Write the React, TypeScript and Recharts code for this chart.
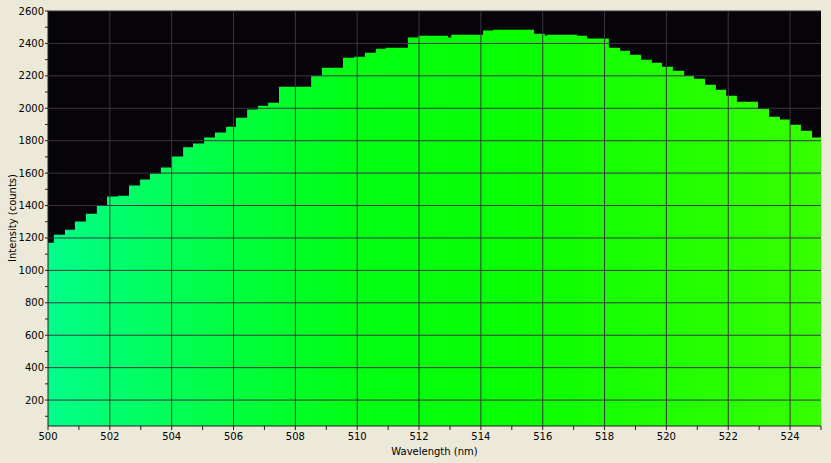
import { AreaChart, Area, XAxis, YAxis, CartesianGrid, ReferenceLine, Label } from "recharts";

// wavelength (nm) where each step starts, and the intensity read for that step
const wavelengths = [
  500, 500.19, 500.55, 500.87, 501.23, 501.58, 501.91, 502.26, 502.62, 502.98,
  503.3, 503.65, 503.98, 504.37, 504.69, 505.05, 505.4, 505.76, 506.08, 506.44,
  506.79, 507.12, 507.47, 508.51, 508.86, 509.54, 509.9, 510.25, 510.61, 510.93,
  511.64, 511.97, 512.94, 513.04, 514.07, 514.39, 515.72, 516.07, 516.14, 517.11,
  517.43, 518.14, 518.5, 518.82, 519.18, 519.53, 519.86, 520.21, 520.57, 520.89,
  521.25, 521.6, 521.93, 522.28, 522.96, 523.32, 523.67, 524.0, 524.35, 524.71, 525,
];
const counts = [
  1171, 1220, 1251, 1302, 1350, 1401, 1455, 1461, 1523, 1560,
  1598, 1634, 1703, 1759, 1782, 1819, 1851, 1886, 1942, 1993,
  2016, 2034, 2133, 2201, 2250, 2312, 2318, 2343, 2367, 2374,
  2436, 2448, 2436, 2454, 2479, 2485, 2460, 2448, 2454, 2448,
  2430, 2374, 2355, 2330, 2300, 2281, 2256, 2232, 2201, 2182,
  2145, 2114, 2077, 2040, 1997, 1948, 1930, 1899, 1862, 1819, 1819,
];

const xTicks = [500, 501, 502, 503, 504, 505, 506, 507, 508, 509, 510, 511, 512, 513, 514, 515, 516, 517, 518, 519, 520, 521, 522, 523, 524, 525];
const xGrid = [502, 504, 506, 508, 510, 512, 514, 516, 518, 520, 522, 524];
const yTicks = [100, 200, 300, 400, 500, 600, 700, 800, 900, 1000, 1100, 1200, 1300, 1400, 1500, 1600, 1700, 1800, 1900, 2000, 2100, 2200, 2300, 2400, 2500, 2600];
const yGrid = [200, 400, 600, 800, 1000, 1200, 1400, 1600, 1800, 2000, 2200, 2400, 2600];

const data = wavelengths.map((w, i) => ({ w, c: counts[i] }));

const FONT = "DejaVu Sans";
const GRID = "#3a3540";

function XTick(props: any) {
  const { x, y, payload } = props;
  if (payload.value % 2 !== 0) return <g />;
  return (
    <text x={x} y={y} dy={7} textAnchor="middle" fontFamily={FONT} fontSize={10} fill="#000">
      {payload.value}
    </text>
  );
}

function YTick(props: any) {
  const { x, y, payload } = props;
  if (payload.value % 200 !== 0) return <g />;
  return (
    <text x={x} y={y} dy={3.5} textAnchor="end" fontFamily={FONT} fontSize={10} fill="#000">
      {payload.value}
    </text>
  );
}

export default function App() {
  return (
    <div style={{ position: "absolute", left: 0, top: 0, width: 831, height: 463, background: "#ECE9D8" }}>
      <AreaChart width={831} height={463} data={data} margin={{ top: 11, right: 0, bottom: 0, left: 0 }}>
        <defs>
          <linearGradient id="spec" x1="0" y1="0" x2="1" y2="0">
            <stop offset="0" stopColor="#00ff8a" />
            <stop offset="0.2" stopColor="#00ff4a" />
            <stop offset="0.4" stopColor="#00ff12" />
            <stop offset="0.6" stopColor="#08ff00" />
            <stop offset="0.8" stopColor="#20ff00" />
            <stop offset="1" stopColor="#36ff00" />
          </linearGradient>
        </defs>
        <CartesianGrid fill="#060409" horizontal={false} vertical={false} />
        <XAxis
          dataKey="w"
          type="number"
          domain={[500, 525]}
          ticks={xTicks}
          interval={0}
          height={37}
          tickSize={4}
          tickMargin={3}
          stroke="#222"
          tick={<XTick />}
        >
          <Label
            content={() => (
              <text x={434.5} y={455} textAnchor="middle" fontFamily={FONT} fontSize={10} fill="#000">
                Wavelength (nm)
              </text>
            )}
          />
        </XAxis>
        <YAxis
          yAxisId="l"
          type="number"
          domain={[40, 2600]}
          ticks={yTicks}
          interval={0}
          width={48}
          tickSize={3}
          tickMargin={1}
          stroke="#222"
          tick={<YTick />}
        >
          <Label
            content={() => (
              <text x={16} y={218} transform="rotate(-90 16 218)" textAnchor="middle" fontFamily={FONT} fontSize={10} fill="#000">
                Intensity (counts)
              </text>
            )}
          />
        </YAxis>
        <YAxis
          yAxisId="r"
          orientation="right"
          type="number"
          domain={[40, 2600]}
          ticks={yGrid}
          interval={0}
          width={10}
          tickSize={2}
          axisLine={false}
          stroke={GRID}
          tick={() => <g />}
        />
        <Area
          yAxisId="l"
          type="stepAfter"
          dataKey="c"
          stroke="none"
          fill="url(#spec)"
          fillOpacity={1}
          isAnimationActive={false}
        />
        {xGrid.map((v) => (
          <ReferenceLine key={"x" + v} yAxisId="l" x={v} stroke={GRID} strokeWidth={1} />
        ))}
        {yGrid.map((v) => (
          <ReferenceLine key={"y" + v} yAxisId="l" y={v} stroke={GRID} strokeWidth={1} />
        ))}
      </AreaChart>
    </div>
  );
}
